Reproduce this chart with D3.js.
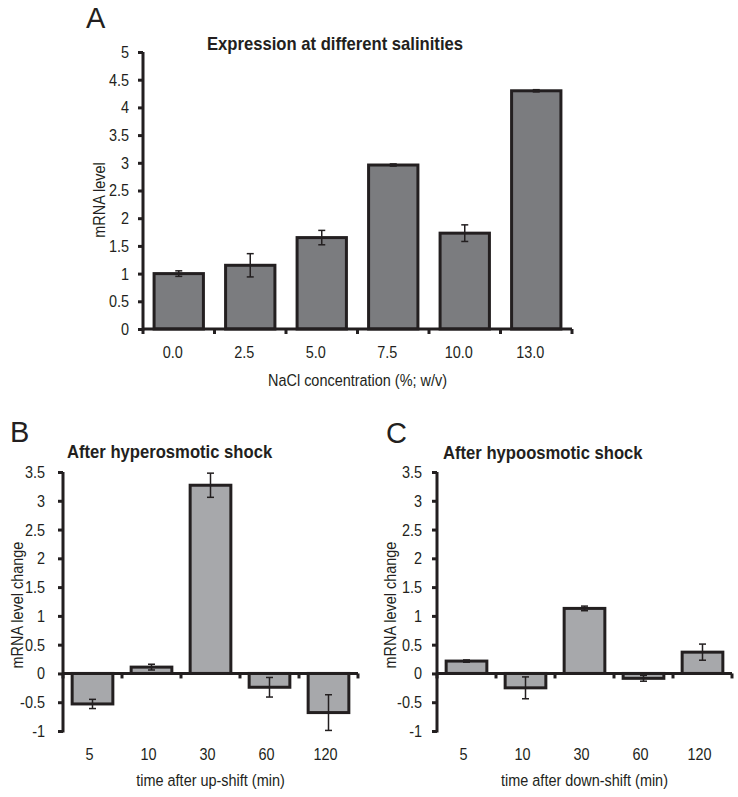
<!DOCTYPE html>
<html><head><meta charset="utf-8">
<script src="https://cdn.jsdelivr.net/npm/d3@7"></script>
<style>
body{margin:0;background:#fff;}
text{font-family:"Liberation Sans",Arial,Helvetica,sans-serif;fill:#231f20;}
</style></head><body>
<svg id="c" width="738" height="797"></svg>
<script>
// Panel A
const catA = ["0.0","2.5","5.0","7.5","10.0","13.0"];
const valA = [1.00,1.15,1.65,2.96,1.73,4.30];
const errA = [0.05,0.21,0.13,0.02,0.15,0.02];
const ticksA = [0,0.5,1,1.5,2,2.5,3,3.5,4,4.5,5];
// Panel B
const catB = ["5","10","30","60","120"];
const valB = [-0.53,0.11,3.27,-0.24,-0.68];
const errB = [0.08,0.05,0.21,0.17,0.31];
// Panel C
const catC = ["5","10","30","60","120"];
const valC = [0.215,-0.25,1.13,-0.085,0.37];
const errC = [0.02,0.19,0.04,0.05,0.14];
const ticksBC = [-1,-0.5,0,0.5,1,1.5,2,2.5,3,3.5];

const svg = d3.select("#c");
const ink = "#231f20";
const SX = 0.85;

function txt(g,x,y,s,o){
  o = o||{};
  let tr = `translate(${x},${y})`;
  if(o.rot) tr += ` rotate(${o.rot})`;
  tr += ` scale(${o.sx===undefined?SX:o.sx},1)`;
  return g.append("text").attr("transform",tr).attr("text-anchor",o.anchor||"middle")
    .attr("font-size",o.size||17).attr("font-weight",o.bold?"bold":"normal")
    .attr("dy",o.dy||0).text(s);
}

function panel(o){
  const g = svg.append("g");
  const x = d3.scaleBand().domain(o.cats).range([o.x0,o.x1]).paddingInner(0.31).paddingOuter(0.155);
  const y = d3.scaleLinear().domain(o.dom).range([o.yb,o.yt]);
  const step = x.step();
  // bars
  g.selectAll("rect.bar").data(o.vals).enter().append("rect")
    .attr("x",(d,i)=>x(o.cats[i]))
    .attr("width",x.bandwidth())
    .attr("y",d=>y(Math.max(0,d)))
    .attr("height",d=>Math.abs(y(d)-y(0)))
    .attr("fill",o.fill).attr("stroke",ink).attr("stroke-width",3);
  // error bars
  o.vals.forEach((v,i)=>{
    const cx = x(o.cats[i])+x.bandwidth()/2;
    const e = o.errs[i];
    g.append("line").attr("x1",cx).attr("x2",cx).attr("y1",y(v+e)).attr("y2",y(v-e)).attr("stroke",ink).attr("stroke-width",1.5);
    [v+e,v-e].forEach(t=>g.append("line").attr("x1",cx-3.5).attr("x2",cx+3.5).attr("y1",y(t)).attr("y2",y(t)).attr("stroke",ink).attr("stroke-width",1.5));
  });
  // y axis
  const ya = d3.axisLeft(y).tickValues(o.yticks).tickSize(5).tickFormat("");
  const yg = g.append("g").attr("transform",`translate(${o.x0},0)`).call(ya);
  yg.select(".domain").attr("stroke",ink).attr("stroke-width",3).attr("d",`M0,${o.yb+1.5}V${o.yt}`);
  yg.selectAll(".tick line").attr("stroke",ink).attr("stroke-width",3);
  o.yticks.forEach(t=>txt(g,o.x0-o.ypad,y(t),String(t),{anchor:"end",dy:"0.35em"}));
  // x axis line at 0
  const zy = y(0);
  g.append("line").attr("x1",o.x0).attr("x2",o.x1).attr("y1",zy).attr("y2",zy).attr("stroke",ink).attr("stroke-width",3);
  d3.range(o.cats.length+1).forEach(i=>{
    const tx = o.x0 + i*step;
    g.append("line").attr("x1",tx).attr("x2",tx).attr("y1",zy).attr("y2",zy+5).attr("stroke",ink).attr("stroke-width",3);
  });
  // x labels
  o.cats.forEach(c=>txt(g,x(c)+x.bandwidth()/2+o.xoff,o.xly,c));
  txt(g,(o.x0+o.x1)/2,o.xty,o.xtitle);
  txt(g,o.ylx,o.yly,o.ytitle,{rot:-90});
  txt(g,o.tx,o.ty,o.title,{anchor:o.tanchor,size:18.5,bold:true,sx:0.9});
  txt(g,o.lx,o.ly,o.letter,{anchor:"start",size:29,sx:1});
}

panel({cats:catA,vals:valA,errs:errA,dom:[0,5],yticks:ticksA,x0:143,x1:572,yb:329,yt:52,fill:"#7b7c7f",ypad:14,xoff:-6,
  xly:358,xty:386,xtitle:"NaCl concentration (%; w/v)",ylx:105,yly:200,ytitle:"mRNA level",
  tx:335,ty:50,tanchor:"middle",title:"Expression at different salinities",lx:86,ly:28,letter:"A"});
panel({cats:catB,vals:valB,errs:errB,dom:[-1,3.5],yticks:ticksBC,x0:63,x1:358,yb:731,yt:472,fill:"#a7a8ab",ypad:18,xoff:-3,
  xly:760,xty:786,xtitle:"time after up-shift (min)",ylx:23,yly:605,ytitle:"mRNA level change",
  tx:67,ty:458,tanchor:"start",title:"After hyperosmotic shock",lx:10,ly:442,letter:"B"});
panel({cats:catC,vals:valC,errs:errC,dom:[-1,3.5],yticks:ticksBC,x0:437,x1:732,yb:731,yt:472,fill:"#a7a8ab",ypad:15,xoff:-3,
  xly:760,xty:786,xtitle:"time after down-shift (min)",ylx:396,yly:605,ytitle:"mRNA level change",
  tx:443,ty:459,tanchor:"start",title:"After hypoosmotic shock",lx:386,ly:443,letter:"C"});
</script>
</body></html>
